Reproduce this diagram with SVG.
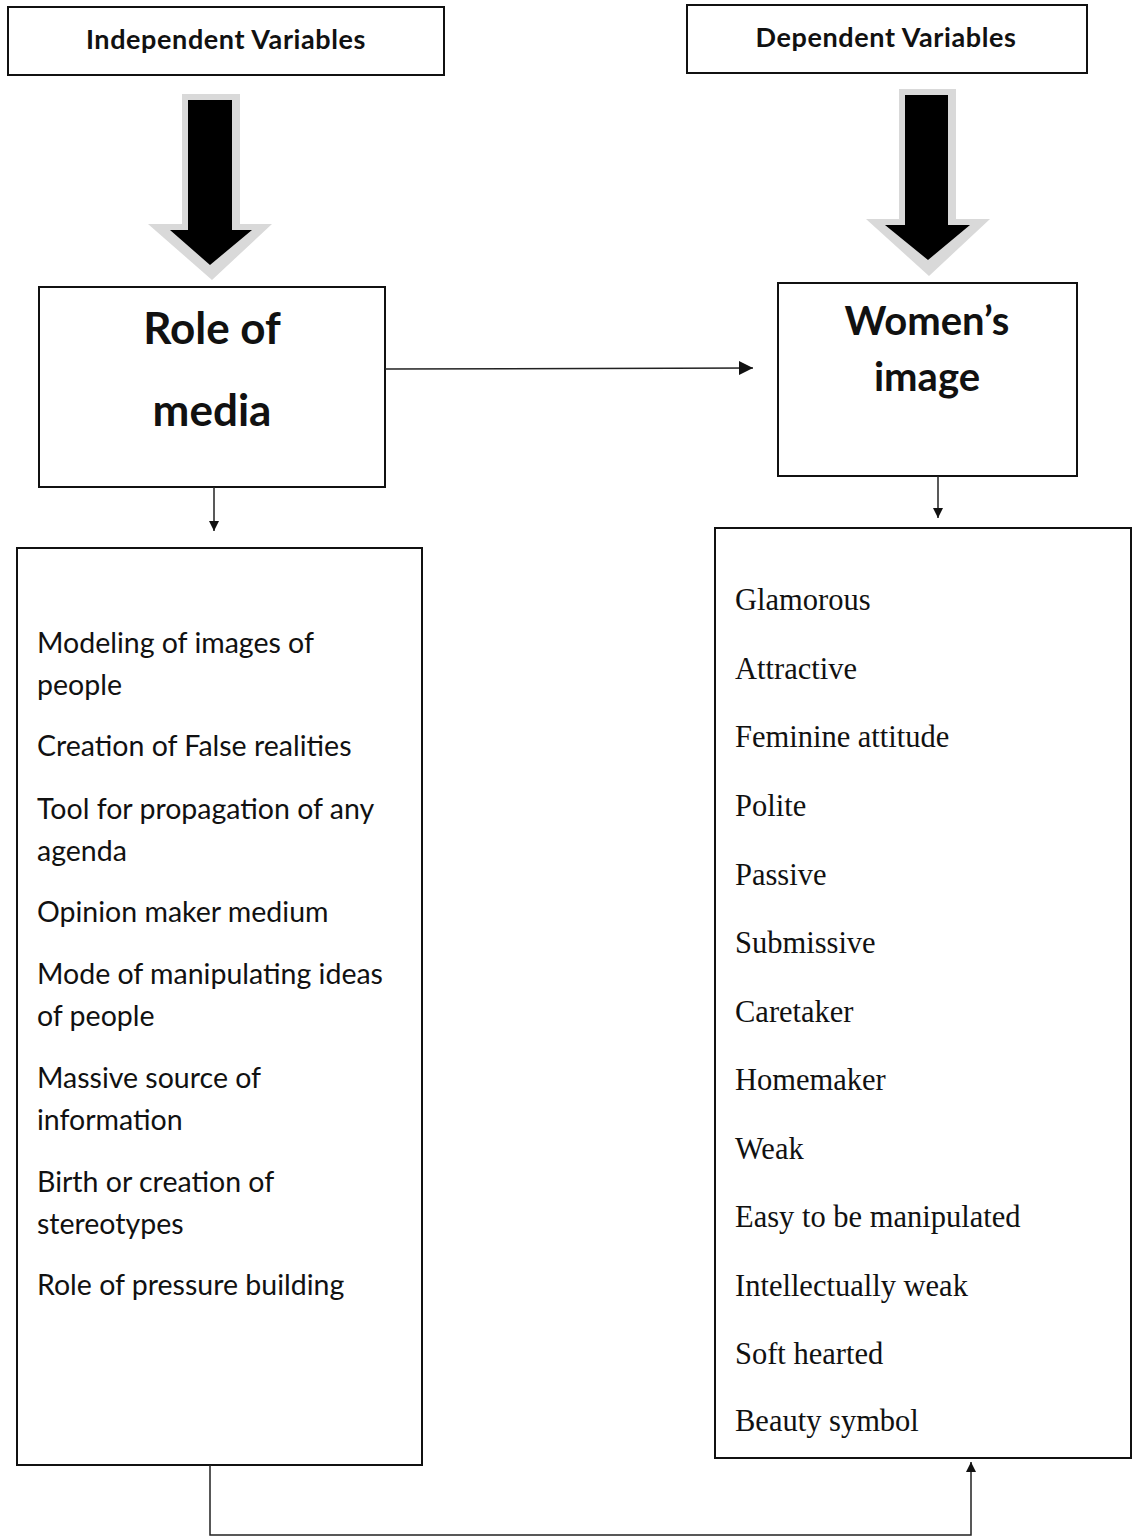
<svg xmlns="http://www.w3.org/2000/svg" width="1133" height="1540" viewBox="0 0 1133 1540">
<defs>
<style>
.box{fill:#fff;stroke:#111;stroke-width:2}
.hdr{font-family:Lato,"Open Sans",sans-serif;font-weight:bold;font-size:27px;letter-spacing:0.6px;fill:#111;text-anchor:middle}
.big{font-family:Lato,"Open Sans",sans-serif;font-weight:bold;font-size:40px;fill:#111;text-anchor:middle}
.big2{font-size:44px}
.ls{font-family:Lato,"Open Sans",sans-serif;font-size:28.5px;fill:#111}
.rs{font-family:"Liberation Serif",serif;font-size:30.5px;fill:#111}
.ln{stroke:#222;stroke-width:1.5;fill:none}
.sh{fill:#d9d9d9}
.ar{fill:#000}
</style>
<marker id="ah" viewBox="0 0 10 10" refX="10" refY="5" markerWidth="10" markerHeight="10" markerUnits="userSpaceOnUse" orient="auto">
<path d="M0,0 L10,5 L0,10 z" fill="#111"/>
</marker>
<marker id="ahb" viewBox="0 0 10 10" refX="10" refY="5" markerWidth="16" markerHeight="14" markerUnits="userSpaceOnUse" orient="auto">
<path d="M0,0 L10,5 L0,10 z" fill="#111"/>
</marker>
</defs>
<rect width="1133" height="1540" fill="#fff"/>

<g id="independent-variables">
<rect class="box" x="8" y="7" width="436" height="68"/>
<text class="hdr" x="226" y="49">Independent Variables</text>
</g>
<g id="dependent-variables">
<rect class="box" x="687" y="5" width="400" height="68"/>
<text class="hdr" x="886" y="47">Dependent Variables</text>
</g>

<g id="arrow-left">
<polygon class="sh" points="182,94 240,94 240,224 272,224 212,280 148,224 182,224"/>
<polygon class="ar" points="188,100 232,100 232,230 252,230 210,265 170,230 188,230"/>
</g>
<g id="arrow-right">
<polygon class="sh" points="899,89 956,89 956,219 990,219 929,276 866,219 899,219"/>
<polygon class="ar" points="905,95 948,95 948,225 970,225 928,260 885,225 905,225"/>
</g>

<g id="role-of-media">
<rect class="box" x="39" y="287" width="346" height="200"/>
<text class="big big2" x="212" y="344">Role of</text>
<text class="big big2" x="212" y="426">media</text>
</g>
<g id="womens-image">
<rect class="box" x="778" y="283" width="299" height="193"/>
<text class="big" x="927" y="335">Women’s</text>
<text class="big" x="927" y="391">image</text>
</g>

<g id="media-roles">
<rect class="box" x="17" y="548" width="405" height="917"/>
<text class="ls" x="37" y="653">Modeling of images of</text>
<text class="ls" x="37" y="695">people</text>
<text class="ls" x="37" y="756">Creation of False realities</text>
<text class="ls" x="37" y="819">Tool for propagation of any</text>
<text class="ls" x="37" y="861">agenda</text>
<text class="ls" x="37" y="922">Opinion maker medium</text>
<text class="ls" x="37" y="984">Mode of manipulating ideas</text>
<text class="ls" x="37" y="1026">of people</text>
<text class="ls" x="37" y="1088">Massive source of</text>
<text class="ls" x="37" y="1130">information</text>
<text class="ls" x="37" y="1192">Birth or creation of</text>
<text class="ls" x="37" y="1234">stereotypes</text>
<text class="ls" x="37" y="1295">Role of pressure building</text>
</g>

<g id="image-traits">
<rect class="box" x="715" y="528" width="416" height="930"/>
<text class="rs" x="735" y="610">Glamorous</text>
<text class="rs" x="735" y="679">Attractive</text>
<text class="rs" x="735" y="747">Feminine attitude</text>
<text class="rs" x="735" y="816">Polite</text>
<text class="rs" x="735" y="885">Passive</text>
<text class="rs" x="735" y="953">Submissive</text>
<text class="rs" x="735" y="1022">Caretaker</text>
<text class="rs" x="735" y="1090">Homemaker</text>
<text class="rs" x="735" y="1159">Weak</text>
<text class="rs" x="735" y="1227">Easy to be manipulated</text>
<text class="rs" x="735" y="1296">Intellectually weak</text>
<text class="rs" x="735" y="1364">Soft hearted</text>
<text class="rs" x="735" y="1431">Beauty symbol</text>
</g>

<g id="connectors">
<line class="ln" x1="385" y1="369" x2="753" y2="368" marker-end="url(#ahb)"/>
<line class="ln" x1="214" y1="487" x2="214" y2="531" marker-end="url(#ah)"/>
<line class="ln" x1="938" y1="476" x2="938" y2="518" marker-end="url(#ah)"/>
<polyline class="ln" points="210,1465 210,1535 971,1535 971,1462" stroke="#444" stroke-width="1.2" marker-end="url(#ah)"/>
</g>
</svg>
